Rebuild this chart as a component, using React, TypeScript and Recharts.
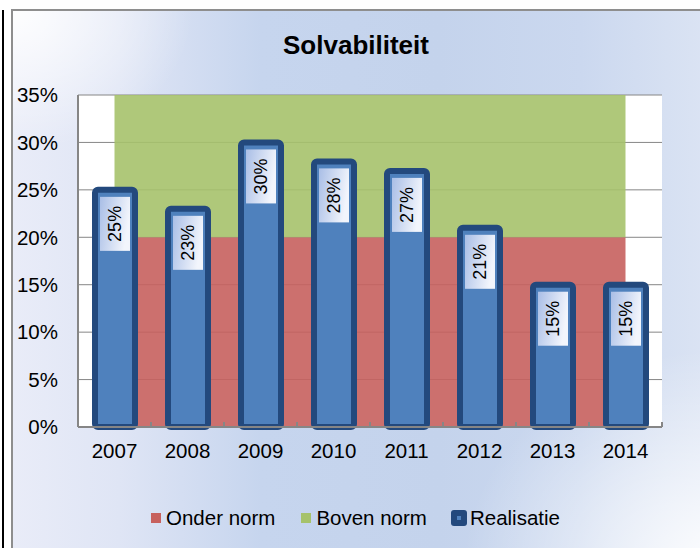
import React from 'react';
import { ComposedChart, Area, Bar, XAxis, YAxis, CartesianGrid, LabelList, Legend } from 'recharts';

// data
const years = ['2007', '2008', '2009', '2010', '2011', '2012', '2013', '2014'];
const realisatie = [25, 23, 30, 28, 27, 21, 15, 15];
const onderNorm = [20, 20, 20, 20, 20, 20, 20, 20];
const bovenNorm = [15, 15, 15, 15, 15, 15, 15, 15];
const yTicks = [0, 5, 10, 15, 20, 25, 30, 35];
const legendOrder = ['onder', 'boven', 'realisatie'];

const data = years.map((year, i) => ({
  year,
  onder: onderNorm[i],
  boven: bovenNorm[i],
  realisatie: realisatie[i],
}));

const FONT = 'Arial, "Liberation Sans", sans-serif';
const W = 700;
const H = 548;
const MARGIN = { top: 95, right: 38, bottom: 91, left: 8 };
const PLOT_W = W - MARGIN.left - 70 - MARGIN.right;
const AXIS_GRAY = '#868686';
const BAR_FILL = '#4F81BD';
const BAR_EDGE = '#23497D';

const XTick = (props: any) => {
  const { x, y, payload, index } = props;
  const half = PLOT_W / years.length / 2;
  const axisY = y - 16;
  return (
    <g>
      <line x1={x - half} x2={x - half} y1={axisY} y2={axisY - 5} stroke={AXIS_GRAY} strokeWidth={2} />
      {index === years.length - 1 && (
        <line x1={x + half} x2={x + half} y1={axisY} y2={axisY - 5} stroke={AXIS_GRAY} strokeWidth={2} />
      )}
      <text x={x} y={y} dy="0.72em" textAnchor="middle" fill="#000" fontSize={20.5} fontFamily={FONT}>
        {payload.value}
      </text>
    </g>
  );
};

// label in a small gradient box, rotated text
const BarLabel = (props: any) => {
  const { x, y, width, value } = props;
  const cx = x + width / 2;
  const bw = 30;
  const bh = 54;
  const top = y + 7;
  const cy = top + bh / 2;
  return (
    <g>
      <rect x={cx - bw / 2} y={top} width={bw} height={bh} fill="url(#lblGrad)" />
      <text
        x={cx}
        y={cy}
        transform={`rotate(-90 ${cx} ${cy})`}
        textAnchor="middle"
        dy="0.36em"
        fill="#000"
        fontSize={18}
        fontFamily={FONT}
      >
        {value}%
      </text>
    </g>
  );
};

const LegendContent = (props: any) => {
  const items = [...(props.payload || [])].sort(
    (a: any, b: any) => legendOrder.indexOf(a.dataKey) - legendOrder.indexOf(b.dataKey)
  );
  return (
    <div style={{ display: 'flex', alignItems: 'center', paddingLeft: 151, fontFamily: FONT, fontSize: 20.5, lineHeight: '24px', color: '#000' }}>
      {items.map((it: any, i: number) => {
        const isBar = it.dataKey === 'realisatie';
        return (
          <div key={i} style={{ display: 'flex', alignItems: 'center', marginRight: i === 0 ? 26 : 24 }}>
            {isBar ? (
              <span style={{ width: 16, height: 16, borderRadius: 3, background: BAR_EDGE, display: 'inline-flex', alignItems: 'center', justifyContent: 'center', marginRight: 3 }}>
                <span style={{ width: 4, height: 4, background: BAR_FILL }} />
              </span>
            ) : (
              <span style={{ width: 10, height: 10, background: it.color, display: 'inline-block', marginRight: 5 }} />
            )}
            <span>{it.value}</span>
          </div>
        );
      })}
    </div>
  );
};

export default function App() {
  return (
    <div style={{ position: 'absolute', left: 0, top: 0, width: W, height: H, overflow: 'hidden', background: '#fff' }}>
      <div style={{ position: 'absolute', left: 2, top: 10, width: 2, height: H, background: '#000' }} />
      <div
        style={{
          position: 'absolute',
          left: 11,
          top: 9,
          width: W + 10,
          height: H + 10,
          borderLeft: '2px solid #8e8e8e',
          borderTop: '2px solid #8e8e8e',
          background:
            'radial-gradient(ellipse 180px 140px at 0% 0%, rgba(255,255,255,0.95), rgba(255,255,255,0) 100%),' +
            'radial-gradient(ellipse 260px 220px at 100% 100%, rgba(255,255,255,0.95), rgba(255,255,255,0) 100%),' +
            'linear-gradient(to right, #e9ecf8 0%, #dfe5f5 15%, #c6d5ee 35%, #c4d3ec 60%, #cbd8ef 80%, #dde5f4 100%)',
        }}
      />
      <div
        style={{
          position: 'absolute',
          left: 0,
          top: 30,
          width: 712,
          textAlign: 'center',
          fontFamily: FONT,
          fontWeight: 'bold',
          fontSize: 26,
          lineHeight: '30px',
          color: '#000',
        }}
      >
        Solvabiliteit
      </div>
      <div style={{ position: 'absolute', left: 0, top: 0 }}>
        <ComposedChart width={W} height={H} data={data} margin={MARGIN}>
          <defs>
            <linearGradient id="lblGrad" x1="0" y1="0" x2="1" y2="0.3">
              <stop offset="0%" stopColor="#a9bee6" />
              <stop offset="100%" stopColor="#f2f5fc" />
            </linearGradient>
          </defs>
          <CartesianGrid vertical={false} stroke={AXIS_GRAY} fill="#ffffff" fillOpacity={1} />
          <XAxis
            dataKey="year"
            height={30}
            axisLine={{ stroke: AXIS_GRAY, strokeWidth: 2 }}
            tickLine={false}
            tickSize={0}
            tickMargin={16}
            tick={<XTick />}
            interval={0}
          />
          <YAxis
            width={70}
            domain={[0, 35]}
            ticks={yTicks}
            tickFormatter={(v: number) => `${v}%`}
            axisLine={{ stroke: AXIS_GRAY, strokeWidth: 2 }}
            tickLine={false}
            tickSize={0}
            tickMargin={20}
            tick={{ fill: '#000', fontSize: 20.5, fontFamily: FONT }}
            interval={0}
          />
          <Area
            dataKey="onder"
            name="Onder norm"
            stackId="norm"
            type="linear"
            fill="#C7615E"
            fillOpacity={0.9}
            stroke="none"
            dot={false}
            activeDot={false}
            isAnimationActive={false}
          />
          <Area
            dataKey="boven"
            name="Boven norm"
            stackId="norm"
            type="linear"
            fill="#A6C26B"
            fillOpacity={0.9}
            stroke="none"
            dot={false}
            activeDot={false}
            isAnimationActive={false}
          />
          <Bar
            dataKey="realisatie"
            name="Realisatie"
            barSize={40}
            fill={BAR_FILL}
            stroke={BAR_EDGE}
            strokeWidth={6}
            radius={3}
            isAnimationActive={false}
          >
            <LabelList dataKey="realisatie" content={<BarLabel />} />
          </Bar>
          <Legend
            layout="horizontal"
            verticalAlign="middle"
            align="center"
            content={<LegendContent />}
            wrapperStyle={{ top: 506, left: 0, width: W }}
          />
        </ComposedChart>
      </div>
    </div>
  );
}
